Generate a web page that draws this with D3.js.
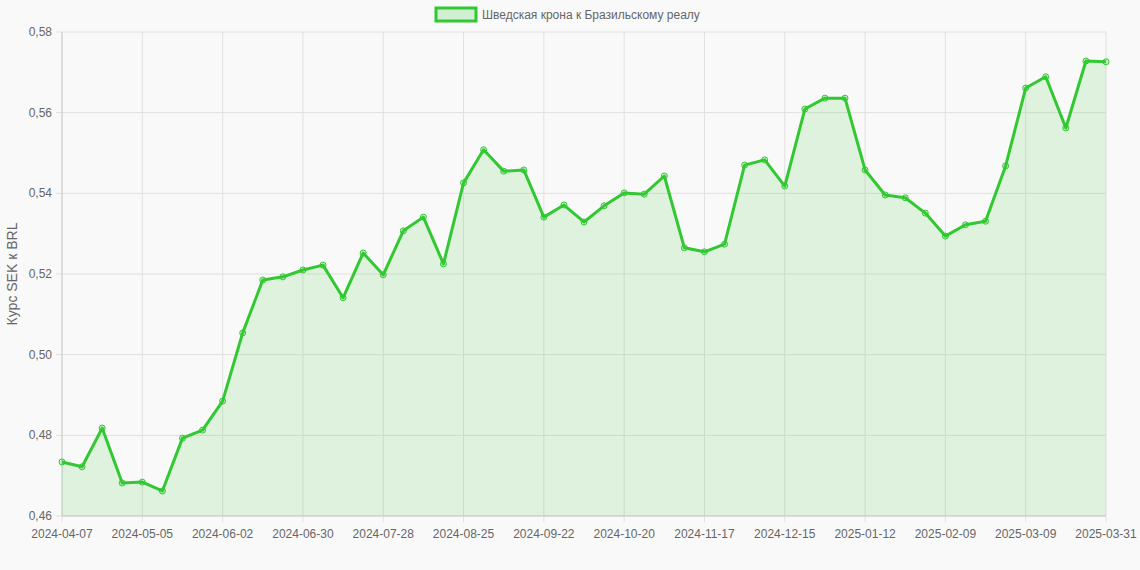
<!DOCTYPE html>
<html><head><meta charset="utf-8">
<script src="https://cdn.jsdelivr.net/npm/d3@7"></script>
<style>body{margin:0;background:#f9f9f9;font-family:"Liberation Sans",Arial,sans-serif}</style>
</head><body><svg id="c" width="1140" height="570"></svg>
<script>
const dates=["2024-04-07","2024-04-14","2024-04-21","2024-04-28","2024-05-05","2024-05-12","2024-05-19","2024-05-26","2024-06-02","2024-06-09","2024-06-16","2024-06-23","2024-06-30","2024-07-07","2024-07-14","2024-07-21","2024-07-28","2024-08-04","2024-08-11","2024-08-18","2024-08-25","2024-09-01","2024-09-08","2024-09-15","2024-09-22","2024-09-29","2024-10-06","2024-10-13","2024-10-20","2024-10-27","2024-11-03","2024-11-10","2024-11-17","2024-11-24","2024-12-01","2024-12-08","2024-12-15","2024-12-22","2024-12-29","2025-01-05","2025-01-12","2025-01-19","2025-01-26","2025-02-02","2025-02-09","2025-02-16","2025-02-23","2025-03-02","2025-03-09","2025-03-16","2025-03-23","2025-03-30","2025-03-31"];
const values=[0.4734,0.4722,0.4818,0.4682,0.4684,0.4662,0.4793,0.4813,0.4885,0.5054,0.5185,0.5193,0.5210,0.5222,0.5141,0.5252,0.5198,0.5307,0.5341,0.5225,0.5426,0.5508,0.5455,0.5458,0.5341,0.5371,0.5329,0.5369,0.5401,0.5398,0.5443,0.5265,0.5255,0.5274,0.5470,0.5483,0.5418,0.5609,0.5636,0.5636,0.5458,0.5396,0.5389,0.5351,0.5294,0.5322,0.5331,0.5468,0.5661,0.5689,0.5562,0.5728,0.5726];
const yTicks=[0.46,0.48,0.50,0.52,0.54,0.56,0.58];
const seriesName="Шведская крона к Бразильскому реалу";
const svg=d3.select("#c");
const L=62,R=1106,T=32,B=516;
const x=d3.scalePoint().domain(dates).range([L,R]);
const y=d3.scaleLinear().domain([0.46,0.58]).range([B,T]);
const shown=dates.filter((d,i)=>i%4===0);
const g=svg.append("g");
// grid
g.selectAll(".vg").data(shown).join("line").attr("x1",d=>x(d)).attr("x2",d=>x(d)).attr("y1",T).attr("y2",B+6).attr("stroke","#e0e0e0");
g.selectAll(".hg").data(yTicks).join("line").attr("x1",L-6).attr("x2",R).attr("y1",d=>y(d)).attr("y2",d=>y(d)).attr("stroke","#e0e0e0");
g.append("line").attr("x1",L).attr("x2",L).attr("y1",T).attr("y2",B).attr("stroke","#ccc");
g.append("line").attr("x1",L).attr("x2",R).attr("y1",B).attr("y2",B).attr("stroke","#ccc");
g.selectAll(".xt").data(shown).join("text").attr("x",d=>x(d)).attr("y",B+22).attr("text-anchor","middle").attr("font-size",12).attr("fill","#666").text(d=>d);
g.selectAll(".yt").data(yTicks).join("text").attr("x",L-10).attr("y",d=>y(d)+4).attr("text-anchor","end").attr("font-size",12).attr("fill","#666").text(d=>d.toFixed(2).replace(".",","));
svg.append("text").attr("transform",`translate(17,${(T+B)/2}) rotate(-90)`).attr("text-anchor","middle").attr("font-size",14).attr("fill","#666").text("Курс SEK к BRL");
const col="rgb(50,200,50)";
svg.append("path").datum(values).attr("d",d3.area().x((d,i)=>x(dates[i])).y0(B).y1(d=>y(d))).attr("fill","rgba(50,200,50,0.13)");
svg.append("path").datum(values).attr("d",d3.line().x((d,i)=>x(dates[i])).y(d=>y(d))).attr("fill","none").attr("stroke",col).attr("stroke-width",3).attr("stroke-linejoin","round");
svg.selectAll(".pt").data(values).join("circle").attr("cx",(d,i)=>x(dates[i])).attr("cy",d=>y(d)).attr("r",3).attr("fill","rgba(50,200,50,0.2)").attr("stroke",col).attr("stroke-width",1);
// legend
const lg=svg.append("g");
const tw=226,bw=40,totalW=bw+6+tw,lx=(1140-totalW)/2+2;
lg.append("rect").attr("x",lx).attr("y",8).attr("width",bw).attr("height",13).attr("fill","rgba(50,200,50,0.2)").attr("stroke",col).attr("stroke-width",3);
lg.append("text").attr("x",lx+bw+6).attr("y",19).attr("font-size",12).attr("fill","#666").text(seriesName);
</script></body></html>
